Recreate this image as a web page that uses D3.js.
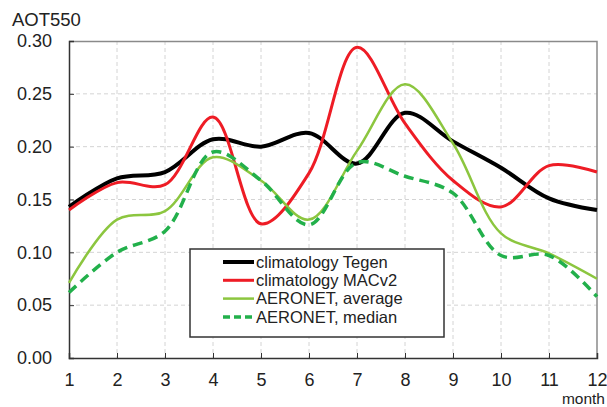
<!DOCTYPE html>
<html>
<head>
<meta charset="utf-8">
<script src="https://cdn.jsdelivr.net/npm/d3@7"></script>
<style>
  body { margin: 0; background: #fff; }
  text { font-family: "Liberation Sans", Arial, sans-serif; fill: #222; }
</style>
</head>
<body>
<div id="chart"></div>
<script>
// Chart data
var months = [1, 2, 3, 4, 5, 6, 7, 8, 9, 10, 11, 12];
var tegen = [0.143, 0.170, 0.176, 0.207, 0.200, 0.213, 0.184, 0.232, 0.205, 0.180, 0.151, 0.140];
var macv2 = [0.140, 0.166, 0.164, 0.228, 0.127, 0.175, 0.294, 0.222, 0.168, 0.143, 0.182, 0.176];
var aeronetAvg = [0.071, 0.131, 0.139, 0.190, 0.168, 0.131, 0.196, 0.259, 0.203, 0.118, 0.099, 0.075];
var aeronetMed = [0.062, 0.100, 0.120, 0.195, 0.168, 0.126, 0.185, 0.172, 0.156, 0.097, 0.097, 0.058];
var yTicks = [0, 0.05, 0.10, 0.15, 0.20, 0.25, 0.30];

var series = [
  { name: "climatology Tegen", values: tegen, color: "#000000", width: 4, dash: null },
  { name: "climatology MACv2", values: macv2, color: "#ee1c25", width: 3, dash: null },
  { name: "AERONET, average", values: aeronetAvg, color: "#8cc63f", width: 2.5, dash: null },
  { name: "AERONET, median", values: aeronetMed, color: "#22b04b", width: 3.5, dash: "10,6" }
];

var svgWidth = 607;
var svgHeight = 407;
var margin = { top: 41, right: 10, bottom: 49, left: 69 };
var width = svgWidth - margin.left - margin.right;
var height = svgHeight - margin.top - margin.bottom;

var svg = d3.select("#chart")
  .append("svg")
  .attr("width", svgWidth)
  .attr("height", svgHeight);

var chartGroup = svg.append("g")
  .attr("transform", `translate(${margin.left}, ${margin.top})`);

// Scales
var xScale = d3.scaleLinear().domain([1, 12]).range([0, width]);
var yScale = d3.scaleLinear().domain([0, 0.30]).range([height, 0]);

// Grid lines
chartGroup.append("g")
  .selectAll("line")
  .data(months.slice(1, -1))
  .enter()
  .append("line")
  .attr("x1", d => xScale(d))
  .attr("x2", d => xScale(d))
  .attr("y1", 0)
  .attr("y2", height)
  .attr("stroke", "#d4d4d4")
  .attr("stroke-dasharray", "4,3");

chartGroup.append("g")
  .selectAll("line")
  .data(yTicks.slice(1, -1))
  .enter()
  .append("line")
  .attr("x1", 0)
  .attr("x2", width)
  .attr("y1", d => yScale(d))
  .attr("y2", d => yScale(d))
  .attr("stroke", "#d4d4d4")
  .attr("stroke-dasharray", "4,3");

// Top and right border
chartGroup.append("path")
  .attr("d", `M0,0.5H${width}V${height}`)
  .attr("fill", "none")
  .attr("stroke", "#8a8a8a")
  .attr("stroke-width", 1.5);

// Axes
var bottomAxis = d3.axisBottom(xScale).tickValues(months).tickSize(-5).tickPadding(15).tickFormat(d3.format("d"));
var leftAxis = d3.axisLeft(yScale).tickValues(yTicks).tickSize(-5).tickPadding(17).tickFormat(d3.format(".2f"));

var xAxis = chartGroup.append("g")
  .attr("transform", `translate(0, ${height})`)
  .call(bottomAxis);

var yAxis = chartGroup.append("g")
  .call(leftAxis);

[xAxis, yAxis].forEach(function(ax) {
  ax.select(".domain").attr("stroke", "#333").attr("stroke-width", 1.5);
  ax.selectAll(".tick line").attr("stroke", "#333");
  ax.selectAll(".tick text")
    .style("font-size", "18px")
    .style("font-family", "Liberation Sans, Arial, sans-serif")
    .attr("fill", "#222");
});

// Lines
var line = d3.line()
  .x((d, i) => xScale(months[i]))
  .y(d => yScale(d))
  .curve(d3.curveCatmullRom.alpha(0.5));

chartGroup.selectAll(".series")
  .data(series)
  .enter()
  .append("path")
  .attr("class", "series")
  .attr("d", d => line(d.values))
  .attr("fill", "none")
  .attr("stroke", d => d.color)
  .attr("stroke-width", d => d.width)
  .attr("stroke-dasharray", d => d.dash);

// Legend
var legend = svg.append("g").attr("transform", "translate(190, 249)");
legend.append("rect")
  .attr("width", 254)
  .attr("height", 88)
  .attr("fill", "#fff")
  .attr("stroke", "#333")
  .attr("stroke-width", 1.5);

var legendRows = legend.selectAll(".row")
  .data(series)
  .enter()
  .append("g")
  .attr("class", "row")
  .attr("transform", (d, i) => `translate(0, ${13 + i * 18.3})`);

legendRows.append("line")
  .attr("x1", 33)
  .attr("x2", 64)
  .attr("stroke", d => d.color)
  .attr("stroke-width", d => d.width)
  .attr("stroke-dasharray", d => d.dash ? "7,4" : null);

legendRows.append("text")
  .attr("x", 66)
  .attr("dy", "0.35em")
  .style("font-size", "16.5px")
  .text(d => d.name);

// Axis titles
svg.append("text")
  .attr("x", 12)
  .attr("y", 26)
  .style("font-size", "18.5px")
  .text("AOT550");

svg.append("text")
  .attr("x", 605)
  .attr("y", 404)
  .attr("text-anchor", "end")
  .style("font-size", "15.5px")
  .text("month");
</script>
</body>
</html>
